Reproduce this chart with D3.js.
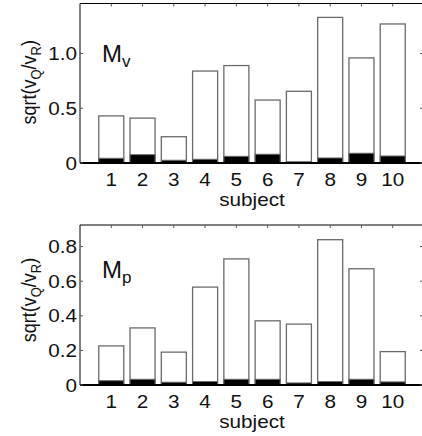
<!DOCTYPE html>
<html><head><meta charset="utf-8">
<script src="https://cdn.jsdelivr.net/npm/d3@7"></script>
<style>body{margin:0;background:#fff}svg{display:block}text{font-family:"Liberation Sans",Arial,sans-serif;fill:#111}</style>
</head><body><svg id="c" width="422" height="436"></svg>
<script>
const subjects = [1,2,3,4,5,6,7,8,9,10];
const mvTotal = [0.43,0.41,0.24,0.84,0.89,0.575,0.655,1.33,0.96,1.27];
const mvBlack = [0.043,0.076,0.025,0.034,0.061,0.08,0.012,0.046,0.089,0.064];
const mpTotal = [0.226,0.33,0.19,0.566,0.729,0.371,0.352,0.84,0.672,0.193];
const mpBlack = [0.025,0.033,0.016,0.02,0.033,0.033,0.012,0.02,0.033,0.018];
const mvTicks = [0,0.5,1.0];
const mvTickLabels = ["0","0.5","1.0"];
const mpTicks = [0,0.2,0.4,0.6,0.8];
const mpTickLabels = ["0","0.2","0.4","0.6","0.8"];

const svg = d3.select("#c");
const SX = 1.15;

function stretchedText(g, x, y, anchor, size, str){
  return g.append("text").attr("transform",`translate(${x},${y}) scale(${SX},1)`)
    .attr("text-anchor",anchor).attr("font-size",size).text(str);
}

function panel(cfg){
  const g = svg.append("g");
  const x = d3.scaleLinear().domain([0,11]).range([80,424]);
  const y = d3.scaleLinear().domain([0,cfg.ymax]).range([cfg.bottom,cfg.top]);
  const bw = 0.8*(x(1)-x(0));
  g.selectAll("rect.tot").data(subjects).join("rect")
    .attr("x",(d)=>x(d)-bw/2).attr("width",bw)
    .attr("y",(d,i)=>y(cfg.total[i])).attr("height",(d,i)=>y(0)-y(cfg.total[i]))
    .attr("fill","#fff").attr("stroke","#6a6a6a").attr("stroke-width",1.3);
  g.selectAll("rect.blk").data(subjects).join("rect")
    .attr("x",(d)=>x(d)-bw/2).attr("width",bw)
    .attr("y",(d,i)=>y(cfg.black[i])).attr("height",(d,i)=>y(0)-y(cfg.black[i]))
    .attr("fill","#000").attr("stroke","#6a6a6a").attr("stroke-width",1);
  g.append("line").attr("x1",x(0)).attr("x2",x(11)).attr("y1",y(0)).attr("y2",y(0)).attr("stroke","#000").attr("stroke-width",2);
  g.append("line").attr("x1",x(0)).attr("x2",x(11)).attr("y1",cfg.top).attr("y2",cfg.top).attr("stroke","#000").attr("stroke-width",1);
  g.append("line").attr("x1",x(0)).attr("x2",x(0)).attr("y1",cfg.top).attr("y2",y(0)).attr("stroke","#000").attr("stroke-width",1);
  subjects.forEach(s=>{
    g.append("line").attr("x1",x(s)).attr("x2",x(s)).attr("y1",cfg.top).attr("y2",cfg.top+3).attr("stroke","#555");
  });
  cfg.ticks.forEach((t,i)=>{
    g.append("line").attr("x1",x(0)).attr("x2",x(0)+3).attr("y1",y(t)).attr("y2",y(t)).attr("stroke","#555");
    g.append("line").attr("x1",x(11)).attr("x2",x(11)-4).attr("y1",y(t)).attr("y2",y(t)).attr("stroke","#555");
    stretchedText(g, 77, y(t)+6.5, "end", 18, cfg.tickLabels[i]);
  });
  subjects.forEach(s=>{
    stretchedText(g, x(s), y(0)+23, "middle", 18, String(s));
  });
  stretchedText(g, 252, y(0)+43, "middle", 18, "subject");
  const cy = (cfg.top+cfg.bottom)/2 - cfg.ylShift;
  const yl = g.append("text").attr("transform",`translate(36,${cy}) rotate(-90) scale(1,${SX})`).attr("text-anchor","middle").attr("font-size",18);
  yl.append("tspan").text("sqrt(v");
  yl.append("tspan").attr("font-size",13).attr("dy",4).text("Q");
  yl.append("tspan").attr("dy",-4).text("/v");
  yl.append("tspan").attr("font-size",13).attr("dy",4).text("R");
  yl.append("tspan").attr("dy",-4).text(")");
  const pl = g.append("text").attr("x",102).attr("y",cfg.top+cfg.labelOff).attr("font-size",24);
  pl.append("tspan").text("M");
  pl.append("tspan").attr("font-size",17).attr("dy",5).text(cfg.sub);
}

panel({top:3.5,bottom:163,ymax:1.457,total:mvTotal,black:mvBlack,ticks:mvTicks,tickLabels:mvTickLabels,sub:"v",labelOff:58,ylShift:1});
panel({top:225,bottom:385,ymax:0.925,total:mpTotal,black:mpBlack,ticks:mpTicks,tickLabels:mpTickLabels,sub:"p",labelOff:53,ylShift:5});
</script></body></html>
